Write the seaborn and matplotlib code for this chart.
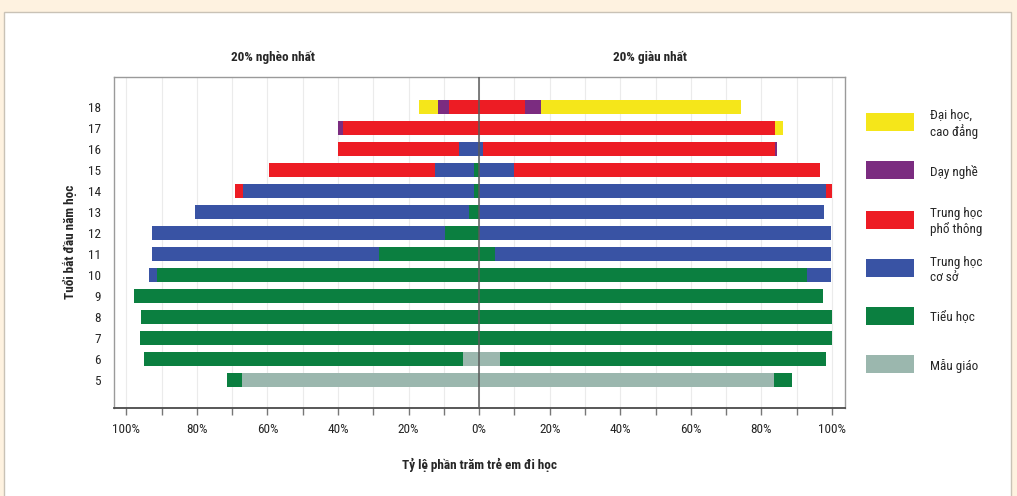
import numpy as np
import pandas as pd
import matplotlib
matplotlib.use("Agg")
import matplotlib.pyplot as plt
from matplotlib import font_manager
from matplotlib.patches import Rectangle
import seaborn as sns

# tuoi bat dau nam hoc (tren xuong duoi)
ages = ["18", "17", "16", "15", "14", "13", "12", "11", "10", "9", "8", "7", "6", "5"]

levels = ["Mẫu giáo", "Tiểu học", "Trung học\ncơ sở", "Trung học\nphổ thông",
          "Dạy nghề", "Đại học,\ncao đẳng"]
colors = ["#9BB7AE", "#0B7F40", "#3953A4", "#ED1C24", "#7B2C80", "#F5E61A"]

# 20% ngheo nhat (%)
poor_mau_giao = [0, 0, 0, 0, 0, 0, 0, 0, 0, 0, 0, 0, 4.7, 67.3]
poor_tieu_hoc = [0, 0, 0, 1.5, 1.5, 2.8, 9.7, 28.3, 91.4, 97.8, 95.8, 96.2, 90.4, 4.2]
poor_thcs = [0, 0, 5.8, 11.0, 65.5, 77.7, 82.9, 64.3, 2.3, 0, 0, 0, 0, 0]
poor_thpt = [8.6, 38.7, 34.2, 47.1, 2.2, 0, 0, 0, 0, 0, 0, 0, 0, 0]
poor_day_nghe = [3.1, 1.3, 0, 0, 0, 0, 0, 0, 0, 0, 0, 0, 0, 0]
poor_dai_hoc = [5.4, 0, 0, 0, 0, 0, 0, 0, 0, 0, 0, 0, 0, 0]

# 20% giau nhat (%)
rich_mau_giao = [0, 0, 0, 0, 0, 0, 0, 0, 0, 0, 0, 0, 5.9, 83.5]
rich_tieu_hoc = [0, 0, 0, 0, 0, 0, 0, 4.6, 92.9, 97.4, 100, 100, 92.3, 5.2]
rich_thcs = [0, 0, 1.1, 9.9, 98.2, 97.7, 99.8, 95.2, 6.9, 0, 0, 0, 0, 0]
rich_thpt = [12.9, 84.0, 82.9, 86.6, 1.8, 0, 0, 0, 0, 0, 0, 0, 0, 0]
rich_day_nghe = [4.5, 0, 0.5, 0, 0, 0, 0, 0, 0, 0, 0, 0, 0, 0]
rich_dai_hoc = [56.9, 2.0, 0, 0, 0, 0, 0, 0, 0, 0, 0, 0, 0, 0]

poor = [poor_mau_giao, poor_tieu_hoc, poor_thcs, poor_thpt, poor_day_nghe, poor_dai_hoc]
rich = [rich_mau_giao, rich_tieu_hoc, rich_thcs, rich_thpt, rich_day_nghe, rich_dai_hoc]

sns.set_style("white")

# chon font hep nhat co san
installed = {f.name for f in font_manager.fontManager.ttflist}
narrow = [n for n in ("Liberation Sans Narrow", "Roboto Condensed", "Open Sans Condensed")
          if n in installed]
dejavu_cond = any(f.name == "DejaVu Sans" and f.stretch == "condensed"
                  for f in font_manager.fontManager.ttflist)
if narrow:
    plt.rcParams["font.family"] = [narrow[0], "DejaVu Sans"]
elif dejavu_cond:
    plt.rcParams["font.family"] = ["DejaVu Sans"]
    plt.rcParams["font.stretch"] = "condensed"
else:
    plt.rcParams["font.family"] = ["Roboto", "DejaVu Sans"]
plt.rcParams["font.size"] = 10

W, H = 1017, 496
fig = plt.figure(figsize=(W / 100, H / 100), dpi=100)
fig.patch.set_facecolor("#FEF2E0")
fig.add_artist(Rectangle((4 / W, -0.01), 1007 / W, 484 / H + 0.01,
                         transform=fig.transFigure, facecolor="white",
                         edgecolor="#C9C2B6", lw=1, zorder=0))

ax = fig.add_axes([114 / W, 88.3 / H, 731 / W, 331 / H])
ax.set_facecolor("white")

# chong cac lop: ve tong tich luy tu ngoai vao trong
for side, sign in ((poor, -1), (rich, 1)):
    cum = np.cumsum(np.array(side), axis=0)
    for i in range(len(levels) - 1, -1, -1):
        df = pd.DataFrame({"age": ages, "val": sign * cum[i]})
        sns.barplot(data=df, x="val", y="age", order=ages, color=colors[i],
                    saturation=1, width=0.63, edgecolor="none", linewidth=0,
                    ax=ax, zorder=3)

ax.axvline(0, color="#5A5A5A", lw=1.1, zorder=6)

ax.set_xlim(-103.5, 103.7)
ax.set_ylim(13 + 1.32, -1.44)
ticks = list(range(-100, 101, 10))
ax.set_xticks(ticks)
ax.set_xticklabels([f"{abs(t)}%" if t % 20 == 0 else "" for t in ticks], fontsize=9.5)
ax.tick_params(axis="x", direction="out", length=5, width=1, color="#777777", pad=6,
               bottom=True)
ax.tick_params(axis="y", length=0, pad=9.5, labelsize=9.5)
ax.grid(axis="x", color="#EBEBEB", lw=0.8)
ax.set_axisbelow(True)
ax.set_xlabel("")
ax.set_ylabel("")
for s in ("left", "top", "right"):
    ax.spines[s].set_color("#9A9A9A")
    ax.spines[s].set_linewidth(1)
ax.spines["bottom"].set_color("#4A4A4A")
ax.spines["bottom"].set_linewidth(1.3)

fig.text(273 / W, 1 - 57 / H, "20% nghèo nhất", ha="center", va="center",
         fontweight="bold", fontsize=9.5)
fig.text(650 / W, 1 - 57 / H, "20% giàu nhất", ha="center", va="center",
         fontweight="bold", fontsize=9.5)
fig.text(479 / W, 1 - 465 / H, "Tỷ lệ phần trăm trẻ em đi học", ha="center",
         va="center", fontweight="bold", fontsize=9.5)
fig.text(70 / W, 1 - 242 / H, "Tuổi bắt đầu năm học", ha="center", va="center",
         rotation=90, fontweight="bold", fontsize=9.5)

# chu giai
leg_y = [364, 316, 268, 219.5, 170.3, 121.7]
for i, lab in enumerate(levels):
    yc = leg_y[i]
    fig.add_artist(Rectangle((866 / W, 1 - (yc + 9) / H), 48 / W, 18 / H,
                             transform=fig.transFigure, facecolor=colors[i],
                             edgecolor="none"))
    fig.text(930 / W, 1 - (yc + 2) / H, lab, ha="left", va="center", fontsize=9.5,
             linespacing=1.2)

fig.savefig("out.png", dpi=100, facecolor=fig.get_facecolor())
